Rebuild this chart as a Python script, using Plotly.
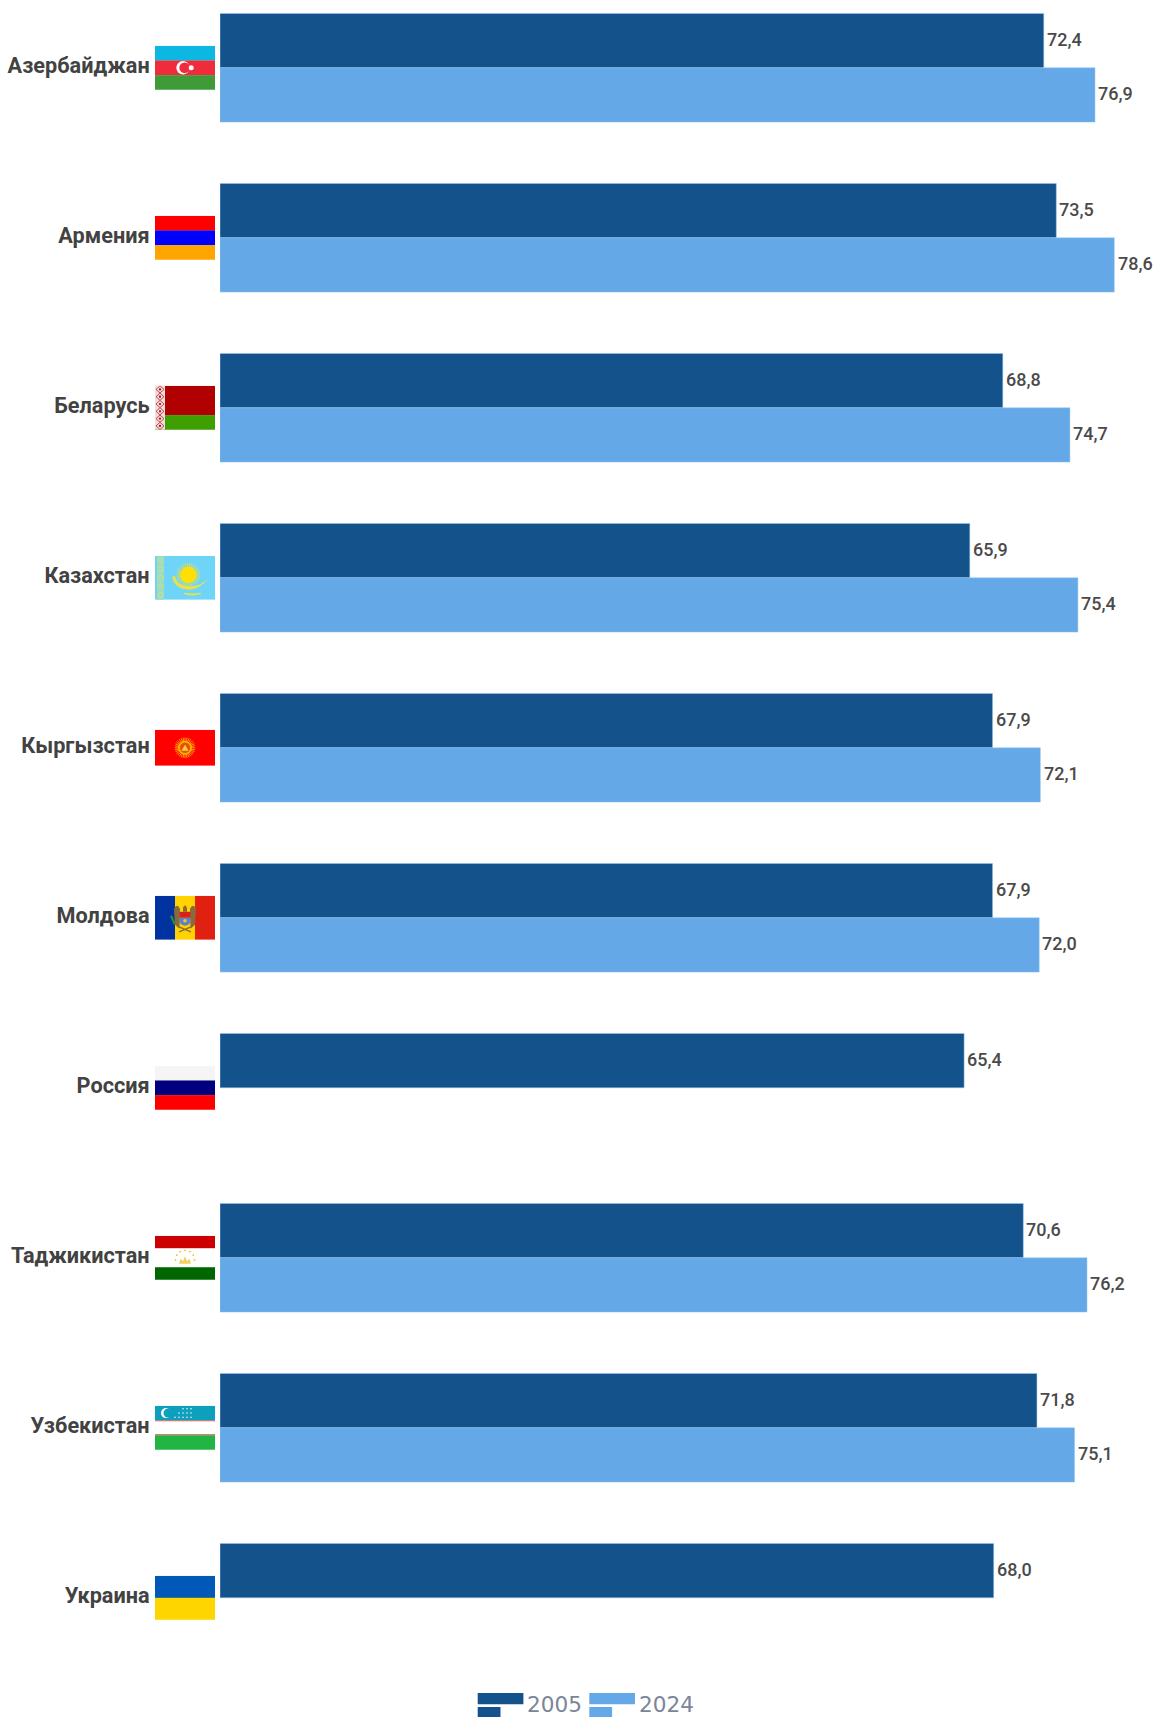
import base64
import math
import plotly.graph_objects as go

countries = ["Азербайджан", "Армения", "Беларусь", "Казахстан", "Кыргызстан",
             "Молдова", "Россия", "Таджикистан", "Узбекистан", "Украина"]
values_2005 = [72.4, 73.5, 68.8, 65.9, 67.9, 67.9, 65.4, 70.6, 71.8, 68.0]
values_2024 = [76.9, 78.6, 74.7, 75.4, 72.1, 72.0, None, 76.2, 75.1, None]
legend_years = ["2005", "2024"]
DARK = "#14528c"
LIGHT = "#64a8e8"

W, H = 1154, 1717
LEFT = 220
PLOT_H = 1683
ROW = 170.0
FIRST = 67.8
BAR_H = 54.3


def stripes(colors, fractions, h, w=60):
    out, y = "", 0.0
    for c, f in zip(colors, fractions):
        out += f'<rect x="0" y="{y}" width="{w}" height="{h*f+0.2}" fill="{c}"/>'
        y += h * f
    return out


def sun(cx, cy, r, n, ray, color, rw=0.7):
    s = ""
    for i in range(n):
        a = 2 * math.pi * i / n
        s += (f'<line x1="{cx+r*math.cos(a):.2f}" y1="{cy+r*math.sin(a):.2f}" '
              f'x2="{cx+(r+ray)*math.cos(a):.2f}" y2="{cy+(r+ray)*math.sin(a):.2f}" '
              f'stroke="{color}" stroke-width="{rw}"/>')
    return s


def fl_az():
    return (stripes(["#0cb8e2", "#ee2c3c", "#3e9b38"], [1/3, 1/3, 1/3], 44)
            + '<circle cx="28" cy="22" r="6.7" fill="#fff"/><circle cx="29.7" cy="22" r="5.4" fill="#ee2c3c"/>'
            + '<circle cx="36.2" cy="22" r="2.5" fill="#fff"/>')


def fl_am():
    return stripes(["#ff0000", "#0000ff", "#ffa500"], [1/3, 1/3, 1/3], 44)


def fl_by():
    s = stripes(["#b00000", "#3f9e00"], [2/3, 1/3], 44)
    s += '<rect width="10" height="44" fill="#f0dcdc"/>'
    for i in range(6):
        y = 3.6 + i * 7.3
        s += (f'<path d="M5 {y-3.6} L9 {y} L5 {y+3.6} L1 {y} Z" fill="none" stroke="#c04a4c" stroke-width="1"/>'
              f'<circle cx="5" cy="{y}" r="1.1" fill="#b00000"/>')
    return s


def fl_kz():
    s = '<rect width="60" height="44" fill="#6fd5f8"/>'
    s += '<rect x="2" width="7" height="44" fill="#9bdcc4"/>'
    for i in range(5):
        y = 4.5 + i * 8.7
        s += f'<circle cx="5.5" cy="{y}" r="2.4" fill="none" stroke="#cfe27c" stroke-width="1"/>'
    s += sun(33.3, 19, 8.3, 30, 3.6, "#f0e040", 0.8)
    s += '<circle cx="33.3" cy="19" r="8.3" fill="#ffe000"/>'
    s += ('<path d="M17 21 Q19 32 32 34 Q46 34 53 22 Q47 30 37 30.5 Q22 31 20 20 Z" fill="#e8e24a"/>'
          '<path d="M20 27 Q26 33 34 32 Q28 36 20 27 Z" fill="#e8e24a"/>'
          '<path d="M29 37.5 Q37 41 46 37.5 Q38 39 29 37.5 Z" fill="#e8e24a" stroke="#e8e24a"/>')
    return s


def fl_kg():
    s = '<rect width="60" height="36" fill="#ff0000"/>'
    s += sun(30, 18, 6.5, 32, 3.8, "#ffb000", 0.9)
    s += '<circle cx="30" cy="18" r="7" fill="#ffb000"/><circle cx="30" cy="18" r="5.2" fill="#e8500a"/>'
    s += '<path d="M26.5 21 L30 15 L33.5 21 Z" fill="#ffd040"/>'
    return s


def fl_md():
    s = ('<rect width="20" height="44" fill="#0033a0"/><rect x="20" width="20" height="44" fill="#ffd200"/>'
         '<rect x="40" width="20" height="44" fill="#e02010"/>')
    s += ('<path d="M19 13 Q22 7 25 13 L24.5 33 L20 29 Z" fill="#8a6a3a"/>'
          '<path d="M41 13 Q38 7 35 13 L35.5 33 L40 29 Z" fill="#8a6a3a"/>'
          '<path d="M28 12 Q30 7.5 32 12 L32 16 L28 16 Z" fill="#8a6a3a"/>'
          '<rect x="24.5" y="16" width="11" height="6" fill="#d8201c"/>'
          '<path d="M24.5 22 H35.5 V27 Q30 33 24.5 27 Z" fill="#5f7fc8"/>'
          '<circle cx="30" cy="25" r="1.8" fill="#e8c830"/>'
          '<path d="M16 20 L20 29" stroke="#2e8b3c" stroke-width="2.2"/>'
          '<path d="M24 31 L36 36 M36 31 L24 36" stroke="#8a6a3a" stroke-width="1.4"/>')
    return s


def fl_ru():
    return stripes(["#f5f5f5", "#00007f", "#ff0000"], [1/3, 1/3, 1/3], 44)


def fl_tj():
    s = stripes(["#cc0000", "#ffffff", "#006600"], [2/7, 3/7, 2/7], 44)
    for i in range(7):
        a = math.pi * (1 + i / 6)
        s += f'<circle cx="{30+9.5*math.cos(a):.2f}" cy="{24+9.5*math.sin(a):.2f}" r="0.9" fill="#e8c020"/>'
    s += '<path d="M24 28 L25.5 23 L28 25.5 L30 20.5 L32 25.5 L34.5 23 L36 28 Z" fill="#f0d060"/>'
    return s


def fl_uz():
    s = stripes(["#0e9fbd", "#d8605c", "#ffffff", "#d8605c", "#22b544"],
                [0.33, 0.025, 0.29, 0.025, 0.33], 44)
    s += '<circle cx="11" cy="7.3" r="5" fill="#fff"/><circle cx="13" cy="7.3" r="4.5" fill="#0e9fbd"/>'
    for row, xs in enumerate([(28, 32, 36), (24, 28, 32, 36), (20, 24, 28, 32, 36)]):
        for x in xs:
            s += f'<circle cx="{x}" cy="{3+row*4.2}" r="0.75" fill="#fff"/>'
    return s


def fl_ua():
    return stripes(["#0059b8", "#ffd500"], [0.5, 0.5], 44)


flags = [(fl_az, 44), (fl_am, 44), (fl_by, 44), (fl_kz, 44), (fl_kg, 36),
         (fl_md, 44), (fl_ru, 44), (fl_tj, 44), (fl_uz, 44), (fl_ua, 44)]


def uri(body, h):
    svg = (f'<svg xmlns="http://www.w3.org/2000/svg" width="240" height="{h*4}" '
           f'viewBox="0 0 60 {h}">{body}</svg>')
    return "data:image/svg+xml;base64," + base64.b64encode(svg.encode()).decode()


def px(x):
    return (x - LEFT) / (W - LEFT)


def py(y):
    return 1 - y / PLOT_H


images = [dict(source=uri(fn(), h), xref="paper", yref="y", x=px(155), y=i,
               sizex=60 / (W - LEFT), sizey=h / ROW, xanchor="left", yanchor="middle",
               sizing="stretch", layer="above")
          for i, (fn, h) in enumerate(flags)]

fig = go.Figure()
for name, vals, col in [(legend_years[0], values_2005, DARK), (legend_years[1], values_2024, LIGHT)]:
    fig.add_trace(go.Bar(
        y=countries, x=vals, name=name, orientation="h",
        marker=dict(color=col, line=dict(width=1, color="rgba(150,200,240,0.5)")),
        cliponaxis=False, hoverinfo="skip",
    ))

shapes = []
for x0, col in [(477.7, DARK), (589.3, LIGHT)]:
    shapes.append(dict(type="rect", xref="paper", yref="paper", x0=px(x0), x1=px(x0 + 45.7),
                       y0=py(1693), y1=py(1704.3), fillcolor=col, line_width=0))
    shapes.append(dict(type="rect", xref="paper", yref="paper", x0=px(x0), x1=px(x0 + 22.8),
                       y0=py(1707), y1=py(1717), fillcolor=col, line_width=0))
annotations = [dict(text=t, xref="paper", yref="paper", x=px(x), y=py(1704.5), xanchor="left",
                    yanchor="middle", showarrow=False, borderpad=0, borderwidth=0,
                    font=dict(family="DejaVu Sans", size=21.6, color="#7c8598"))
               for t, x in zip(legend_years, [527, 638.7])]

# value labels, placed by the axes at each bar's end
for vals, shift in [(values_2005, BAR_H / 2 + 1), (values_2024, -BAR_H / 2 + 1)]:
    for c, v in zip(countries, vals):
        if v is None:
            continue
        annotations.append(dict(
            text=f"{v:.1f}".replace(".", ","), x=v, y=c, xref="x", yref="y",
            xanchor="left", yanchor="middle", xshift=3.2, yshift=shift, showarrow=False,
            borderpad=0, borderwidth=0,
            font=dict(family="Roboto", size=18, color="#4a4a4a", weight=500)))

fig.update_layout(
    width=W, height=H, margin=dict(l=LEFT, r=0, t=0, b=H - PLOT_H, pad=0),
    paper_bgcolor="white", plot_bgcolor="white", showlegend=False,
    barmode="group", bargap=1 - 2 * BAR_H / ROW, bargroupgap=0,
    images=images, shapes=shapes, annotations=annotations,
    xaxis=dict(range=[0, (W - LEFT) / 11.378], visible=False, fixedrange=True),
    yaxis=dict(type="category", categoryorder="array", categoryarray=countries,
               range=[(PLOT_H - FIRST) / ROW, -FIRST / ROW], showgrid=False, showline=False,
               zeroline=False, ticks="outside", ticklen=65, tickcolor="rgba(0,0,0,0)",
               ticklabelshift=2,
               tickfont=dict(family="Roboto", size=21.7, color="#424242", weight=700),
               fixedrange=True),
)

fig.write_html("out.html", config={"displayModeBar": False},
               post_script="document.body.style.margin='0';document.body.style.overflow='hidden';")
